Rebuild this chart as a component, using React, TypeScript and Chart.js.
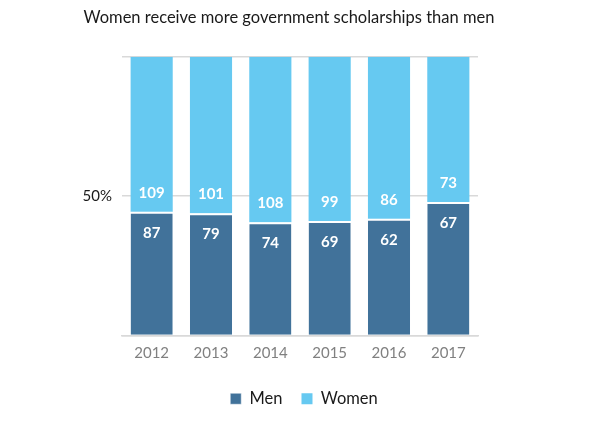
import React, { useEffect, useRef } from "react";
import { Chart, registerables } from "chart.js";

Chart.register(...registerables);

const years = ["2012", "2013", "2014", "2015", "2016", "2017"];
const menCounts = [87, 79, 74, 69, 62, 67];
const womenCounts = [109, 101, 108, 99, 86, 73];
const titleText = "Women receive more government scholarships than men";

const totals = years.map((_, i) => menCounts[i] + womenCounts[i]);
const menPct = menCounts.map((v, i) => (v / totals[i]) * 100);
const womenPct = womenCounts.map((v, i) => (v / totals[i]) * 100);

const FONT = "Lato, 'Open Sans', sans-serif";

const labelPlugin = {
  id: "segLabels",
  afterDatasetsDraw(chart: any) {
    const ctx = chart.ctx;
    ctx.save();
    ctx.fillStyle = "#ffffff";
    ctx.font = `bold 15px ${FONT}`;
    ctx.textAlign = "center";
    ctx.textBaseline = "middle";
    chart.data.datasets.forEach((ds: any, di: number) => {
      const meta = chart.getDatasetMeta(di);
      meta.data.forEach((el: any, i: number) => {
        const raw = ds.counts[i];
        const y = di === 0 ? el.y + 21 : el.base - 19;
        ctx.fillText(String(raw), el.x, y);
      });
    });
    ctx.restore();
  },
};

const shiftPlugin = {
  id: "shiftBoxes",
  afterLayout(chart: any) {
    const t = chart.titleBlock;
    if (t) {
      t.left += 46;
      t.right += 46;
    }
    const l = chart.legend;
    if (l) {
      l.left += 61;
      l.right += 61;
    }
  },
};

export default function App() {
  const ref = useRef<HTMLCanvasElement | null>(null);
  useEffect(() => {
    if (!ref.current) return;
    const chart = new Chart(ref.current, {
      type: "bar",
      data: {
        labels: years,
        datasets: [
          {
            label: "Men",
            data: menPct,
            counts: menCounts,
            backgroundColor: "#41729a",
            borderColor: "#ffffff",
            borderWidth: { top: 2, left: 0, right: 0, bottom: 0 },
            borderSkipped: false,
            barPercentage: 0.71,
            categoryPercentage: 1,
          } as any,
          {
            label: "Women",
            data: womenPct,
            counts: womenCounts,
            backgroundColor: "#66c9f1",
            borderWidth: 0,
            barPercentage: 0.71,
            categoryPercentage: 1,
          } as any,
        ],
      },
      options: {
        animation: false,
        responsive: true,
        maintainAspectRatio: false,
        layout: { padding: { left: 0, right: 115, top: 0, bottom: 3 } },
        plugins: {
          title: {
            display: true,
            text: titleText,
            color: "#1a1a1a",
            font: { family: FONT, size: 16.5, weight: "normal" },
            padding: { top: 0, bottom: 29 },
          },
          legend: {
            position: "bottom",
            labels: {
              boxWidth: 11,
              boxHeight: 11,
              color: "#1a1a1a",
              font: { family: FONT, size: 16.5 },
              padding: 19,
            },
          },
          tooltip: { enabled: false },
        },
        scales: {
          x: {
            stacked: true,
            grid: { display: false, drawTicks: false },
            border: { display: true, color: "#d9d9d9", width: 1.5 },
            ticks: { color: "#808080", font: { family: FONT, size: 15 }, padding: 9 },
          },
          y: {
            stacked: true,
            min: 0,
            max: 100,
            afterFit(scale: any) {
              scale.width = 114;
            },
            grid: { color: "#d9d9d9", lineWidth: 1.5, drawTicks: false },
            border: { display: false },
            ticks: {
              stepSize: 50,
              padding: 10,
              color: "#1a1a1a",
              font: { family: FONT, size: 15 },
              callback: (v: any) => (v === 50 ? "50%" : ""),
            },
          },
        },
      },
      plugins: [labelPlugin, shiftPlugin],
    });
    return () => chart.destroy();
  }, []);
  return (
    <div style={{ width: 585, height: 412 }}>
      <canvas ref={ref} />
    </div>
  );
}
